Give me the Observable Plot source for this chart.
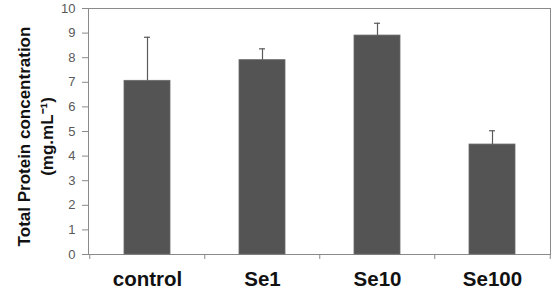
<!DOCTYPE html>
<html><head><meta charset="utf-8">
<script src="https://cdn.jsdelivr.net/npm/d3@7"></script>
<script src="https://cdn.jsdelivr.net/npm/@observablehq/plot@0.6"></script>
<style>body{margin:0;background:#fff}</style>
</head><body><div id="chart"></div>
<script>
const categories = ["control", "Se1", "Se10", "Se100"];
const values = [7.06, 7.90, 8.90, 4.47];
const errors = [1.77, 0.46, 0.50, 0.56];
const yTicks = [0,1,2,3,4,5,6,7,8,9,10];
const yLabel = "Total Protein concentration\n(mg.mL\u207B\u00B9)";

const data = categories.map((c, i) => ({cat: c, v: values[i], e: errors[i]}));
const W = 552, H = 293, ML = 88, MR = 2, MT = 8, MB = 39;
const step = (W - ML - MR) / categories.length;

const chart = Plot.plot({
  width: W, height: H,
  marginLeft: ML, marginRight: MR, marginTop: MT, marginBottom: MB,
  style: {fontFamily: "'Liberation Sans', Arial, sans-serif", background: "#fff"},
  x: {domain: categories, paddingInner: 0.6, paddingOuter: 0.3, label: null},
  y: {domain: [0, 10], label: null},
  marks: [
    Plot.frame({stroke: "#8a8a8a"}),
    Plot.barY(data, {x: "cat", y: "v", fill: "#545454", stroke: "#6a6a6a", strokeWidth: 0.8}),
    Plot.ruleX(data, {x: "cat", y1: "v", y2: d => d.v + d.e, stroke: "#5a5a5a", strokeWidth: 1.2}),
    Plot.tickY(data, {x: "cat", y: d => d.v + d.e, stroke: "#5a5a5a", strokeWidth: 1.2, insetLeft: 20, insetRight: 20}),
    Plot.axisY({ticks: yTicks, tickSize: 6, tickPadding: 7, fontSize: 13, color: "#595959", stroke: "#8a8a8a", label: null, tickFormat: d => d}),
    Plot.axisX({tickSize: 0, tickPadding: 17, fontSize: 20.5, fontWeight: "bold", fill: "#111", label: null}),
    Plot.axisX({tickSize: 5, text: null, dx: -step / 2, stroke: "#8a8a8a", label: null}),
    Plot.axisX({ticks: [categories[categories.length - 1]], tickSize: 5, text: null, dx: step / 2, stroke: "#8a8a8a", label: null}),
    Plot.text([yLabel], {frameAnchor: "left", textAnchor: "middle", lineAnchor: "middle", rotate: -90, dx: -54, dy: 5, fontSize: 17, fontWeight: "bold", fill: "#111", lineHeight: 1.35, text: d => d})
  ]
});
document.getElementById("chart").appendChild(chart);
</script>
</body></html>
